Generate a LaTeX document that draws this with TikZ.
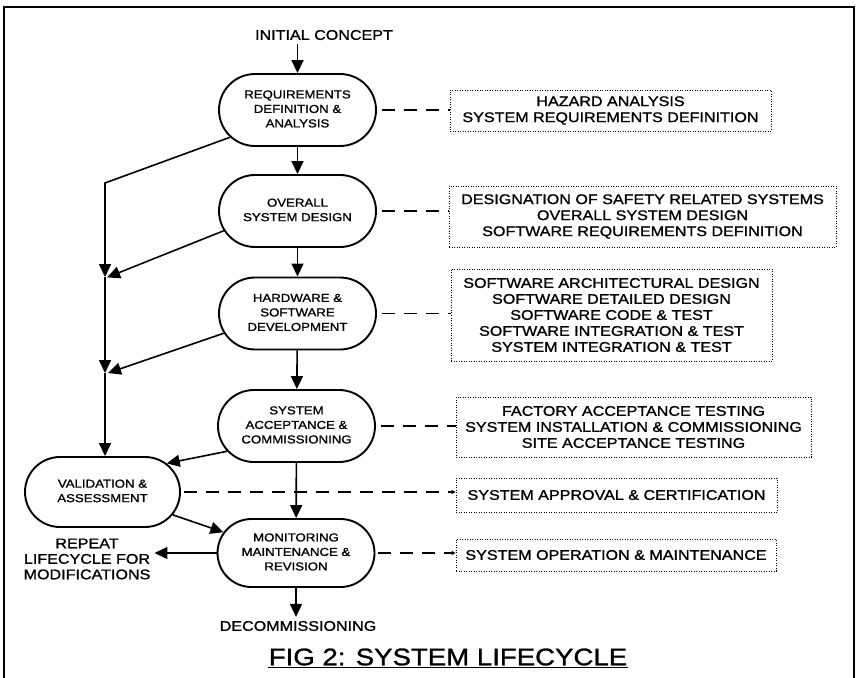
\documentclass[tikz,border=0pt]{standalone}
\usepackage{fontspec}
\setmainfont{Liberation Sans}[FakeStretch=1.15, FakeBold=1.2]
\usetikzlibrary{arrows.meta,shapes.misc,positioning}
\newcommand{\stg}[1]{\makebox[0pt]{\begin{tabular}{@{}c@{}}#1\end{tabular}}}

\begin{document}
\begin{tikzpicture}[x=1pt, y=-1pt, line width=1.6pt,
  stage/.style={draw, line width=1.9pt, rounded rectangle, minimum width=157pt,
    minimum height=72pt, inner sep=0pt, font=\fontsize{11.5}{14.5}\selectfont},
  note/.style={draw, line width=0.8pt, dash pattern=on 0.9pt off 1.6pt,
    align=center, inner sep=0pt, font=\fontsize{14}{16}\selectfont},
  lbl/.style={align=center, font=\fontsize{14}{15.5}\selectfont},
  arr/.style={-{Triangle[length=13pt,width=12pt]}},
  dsh/.style={dash pattern=on 13pt off 9pt}]

\useasboundingbox (0,0) rectangle (856,677);
\draw[line width=1.8pt] (4,680) -- (4,7) -- (854,7) -- (854,680);

% Lifecycle stages
\node[lbl] (init) at (324,35) {INITIAL CONCEPT};
\node[stage] (req) at (297.5,110) {\stg{REQUIREMENTS\\DEFINITION \&\\ANALYSIS}};
\node[stage] (ovr) at (297.5,211) {\stg{OVERALL\\SYSTEM DESIGN}};
\node[stage] (hw) at (297.5,313.5) {\stg{HARDWARE \&\\SOFTWARE\\DEVELOPMENT}};
\node[stage] (sys) at (296.5,426) {\stg{SYSTEM\\ACCEPTANCE \&\\COMMISSIONING}};
\node[stage, minimum width=155pt, minimum height=70pt] (val) at (102.5,492) {\stg{VALIDATION \&\\ASSESSMENT}};
\node[stage, minimum height=68pt] (mon) at (296,553) {\stg{MONITORING\\MAINTENANCE \&\\REVISION}};
\node[lbl] (dec) at (298,626) {DECOMMISSIONING};
\node[lbl] (rep) at (87,559) {REPEAT\\LIFECYCLE FOR\\MODIFICATIONS};

% Activities of each stage
\foreach \nm/\cx/\cy/\w/\h/\txt in {
  n1/610.5/110.5/321/41/{HAZARD ANALYSIS\\SYSTEM REQUIREMENTS DEFINITION},
  n2/642.5/216.5/387/61/{DESIGNATION OF SAFETY RELATED SYSTEMS\\OVERALL SYSTEM DESIGN\\SOFTWARE REQUIREMENTS DEFINITION},
  n3/611.5/315/321/92/{SOFTWARE ARCHITECTURAL DESIGN\\SOFTWARE DETAILED DESIGN\\SOFTWARE CODE \& TEST\\SOFTWARE INTEGRATION \& TEST\\SYSTEM INTEGRATION \& TEST},
  n4/633.5/427/355/60/{FACTORY ACCEPTANCE TESTING\\SYSTEM INSTALLATION \& COMMISSIONING\\SITE ACCEPTANCE TESTING},
  n5/616.5/495/321/34/{SYSTEM APPROVAL \& CERTIFICATION},
  n6/616/555/320/32/{SYSTEM OPERATION \& MAINTENANCE}}
{
  \node[note, minimum width=\w, minimum height=\h] (\nm) at (\cx,\cy) {\txt};
}

% Junctions on the validation feed
\coordinate (j1) at (105,183);
\coordinate (j2) at (105,277);
\coordinate (j3) at (105,373);

% Main flow
\draw[arr] (init.south -| req.north) -- (req.north);
\foreach \a/\b in {req/ovr, ovr/hw, hw/sys, sys/mon}
  \draw[arr] (\a) -- (\b);
\draw[arr] (mon.south) -- (mon.south |- dec.north);
\draw[arr] (mon.west) -- (rep.east |- mon.west);

% Feeds into validation
\draw[arr] (req.202) -- (j1) -- (j2);
\draw[arr, shorten >=-1pt] (ovr.195) -- ([xshift=3pt]j2);
\draw[arr] (j2) -- (j3);
\draw[arr] (hw.195) -- ([xshift=3pt]j3);
\draw[arr] (j3) -- (j3 |- val.north);
\draw[arr] (sys.200) -- (val.24);
\draw[arr] (val.342) -- (mon.164);

% Links to activities
\foreach \a/\b in {req/n1, ovr/n2, hw/n3, sys/n4}
  \draw[dsh, shorten <=5pt] (\a.east) -- (\a.east -| \b.west);
\foreach \a/\b in {val/n5, mon/n6}
  \draw[dsh, shorten <=3pt, -{Triangle[length=4pt,width=4pt]}] (\a.east) -- (\a.east -| \b.west);

% Caption
\node[inner sep=0pt, font=\fontsize{24}{28}\selectfont] (ttl) at (448,657) {FIG 2: SYSTEM LIFECYCLE};
\draw[line width=1.2pt] ([yshift=-2.5pt]ttl.base west) -- ([yshift=-2.5pt]ttl.base east);

\end{tikzpicture}
\end{document}
